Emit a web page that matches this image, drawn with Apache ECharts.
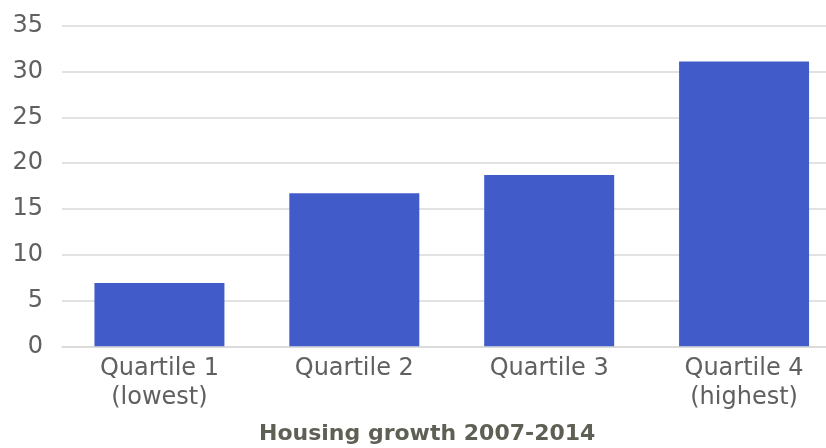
<!DOCTYPE html>
<html>
<head>
<meta charset="utf-8">
<script src="https://cdn.jsdelivr.net/npm/echarts@6/dist/echarts.min.js"></script>
<style>
  html, body { margin: 0; padding: 0; background: #ffffff; overflow: hidden; width: 826px; height: 448px; }
  #chart { width: 842px; height: 448px; }
</style>
</head>
<body>
<div id="chart"></div>
<script>
const categories = ['Quartile 1\n(lowest)', 'Quartile 2', 'Quartile 3', 'Quartile 4\n(highest)'];
const growthValues = [6.9, 16.7, 18.7, 31.1];
const titleText = 'Housing growth 2007-2014';

const fontFamily = '"DejaVu Sans", sans-serif';

// plot area runs past the right edge of the window, like the original crop
const chart = echarts.init(document.getElementById('chart'));
chart.setOption({
    animation: false,
    backgroundColor: '#ffffff',
    grid: {
        left: 62,
        top: 25.7,
        right: 0.5,
        bottom: 101.7,
        containLabel: false
    },
    graphic: [{
        type: 'text',
        left: 259,
        top: 423,
        style: {
            text: titleText,
            fill: '#5f5f55',
            font: 'bold 22px ' + fontFamily
        }
    }],
    xAxis: {
        type: 'category',
        data: categories,
        axisLine: {lineStyle: {color: '#d9d9d9', width: 1.5}},
        axisTick: {show: false},
        axisLabel: {
            color: '#606060',
            fontSize: 24,
            fontFamily: fontFamily,
            lineHeight: 29,
            margin: 8
        }
    },
    yAxis: {
        type: 'value',
        min: 0,
        max: 35,
        interval: 5,
        axisLine: {show: false},
        axisTick: {show: false},
        splitLine: {lineStyle: {color: '#d9d9d9', width: 1.5}},
        axisLabel: {
            color: '#606060',
            fontSize: 24,
            fontFamily: fontFamily,
            margin: 19
        }
    },
    series: [{
        type: 'bar',
        data: growthValues,
        barWidth: '66.7%',
        itemStyle: {color: '#415cc8'}
    }]
});
</script>
</body>
</html>
